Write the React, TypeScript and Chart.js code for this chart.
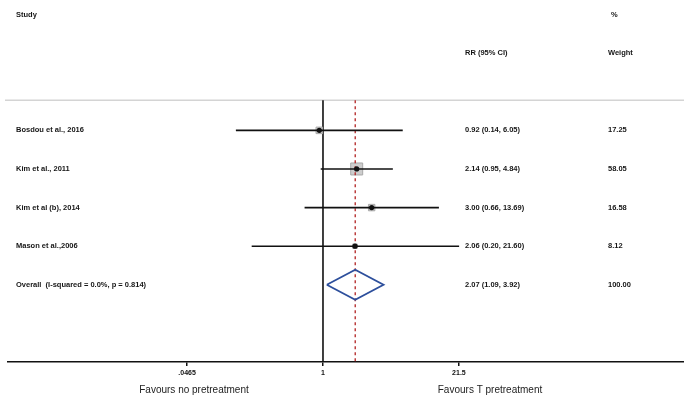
import React, { useEffect, useRef } from "react";
import { Chart, registerables } from "chart.js";

Chart.register(...registerables);

// ---------- data ----------
const studies = ["Bosdou et al., 2016", "Kim et al., 2011", "Kim et al (b), 2014", "Mason et al.,2006"];
const rr = [0.92, 2.14, 3.0, 2.06];
const lower = [0.14, 0.95, 0.66, 0.2];
const upper = [6.05, 4.84, 13.69, 21.6];
const weights = [17.25, 58.05, 16.58, 8.12];

const overallLabel = "Overall  (I-squared = 0.0%, p = 0.814)";
const overallRR = 2.07;
const overallLower = 1.09;
const overallUpper = 3.92;
const overallWeight = 100.0;

const tickValues = [0.0465, 1, 21.5];
const tickLabels = [".0465", "1", "21.5"];

const headerStudy = "Study";
const headerPct = "%";
const headerRR = "RR (95% CI)";
const headerWeight = "Weight";
const favoursLeft = "Favours no pretreatment";
const favoursRight = "Favours T pretreatment";

// ---------- layout / style constants ----------
const W = 684;
const H = 405;
const X_MIN = 0.000817;
const X_MAX = 3459;
const Y_MIN = -3.377;
const Y_MAX = 6.0;
const SEP_Y = -0.78;
const HEAD1_Y = -3;
const HEAD2_Y = -2;
const DIAMOND_HALF = 0.39;
const COL_STUDY = 16;
const COL_RR = 465;
const COL_W = 608;
const COL_PCT = 611;
const FAV_LEFT_X = 194;
const FAV_RIGHT_X = 490;
const FAV_Y = 390;
const TEXT_FONT = "bold 7.5px 'Liberation Sans', Arial, sans-serif";
const TEXT_COLOR = "#151515";

const fmt = (v: number) => v.toFixed(2);

export default function App() {
  const ref = useRef<HTMLCanvasElement | null>(null);

  useEffect(() => {
    document.body.style.margin = "0";
    document.body.style.overflow = "hidden";
    const canvas = ref.current;
    if (!canvas) return;

    const rowY = (i: number) => i;
    const overallRow = studies.length;

    const textPlugin = {
      id: "forestText",
      beforeDatasetsDraw(chart: any) {
        const ctx = chart.ctx;
        const ys = chart.scales.y;
        ctx.save();
        ctx.strokeStyle = "#d4d4d4";
        ctx.lineWidth = 1.5;
        ctx.beginPath();
        const sy = ys.getPixelForValue(SEP_Y);
        ctx.moveTo(chart.chartArea.left - 3, sy);
        ctx.lineTo(chart.chartArea.right, sy);
        ctx.stroke();
        ctx.restore();
      },
      afterDraw(chart: any) {
        const ctx = chart.ctx;
        const ys = chart.scales.y;
        ctx.save();
        ctx.fillStyle = TEXT_COLOR;
        ctx.font = TEXT_FONT;
        ctx.textBaseline = "middle";
        ctx.textAlign = "left";
        const h1 = ys.getPixelForValue(HEAD1_Y);
        const h2 = ys.getPixelForValue(HEAD2_Y);
        ctx.fillText(headerStudy, COL_STUDY, h1);
        ctx.fillText(headerPct, COL_PCT, h1);
        ctx.fillText(headerRR, COL_RR, h2);
        ctx.fillText(headerWeight, COL_W, h2);
        studies.forEach((s, i) => {
          const y = ys.getPixelForValue(rowY(i));
          ctx.fillText(s, COL_STUDY, y);
          ctx.fillText(`${fmt(rr[i])} (${fmt(lower[i])}, ${fmt(upper[i])})`, COL_RR, y);
          ctx.fillText(fmt(weights[i]), COL_W, y);
        });
        const oy = ys.getPixelForValue(rowY(overallRow));
        ctx.fillText(overallLabel, COL_STUDY, oy);
        ctx.fillText(`${fmt(overallRR)} (${fmt(overallLower)}, ${fmt(overallUpper)})`, COL_RR, oy);
        ctx.fillText(fmt(overallWeight), COL_W, oy);

        ctx.font = "10px 'Liberation Sans', Arial, sans-serif";
        ctx.textAlign = "center";
        ctx.fillStyle = "#222";
        ctx.fillText(favoursLeft, FAV_LEFT_X, FAV_Y);
        ctx.fillText(favoursRight, FAV_RIGHT_X, FAV_Y);
        ctx.restore();
      },
    };

    const datasets: any[] = [];
    // dots (on top)
    datasets.push({
      data: rr.map((v, i) => ({ x: v, y: rowY(i) })),
      showLine: false,
      pointRadius: 2.6,
      pointBackgroundColor: "#111",
      pointBorderColor: "#111",
      pointBorderWidth: 0,
      order: 0,
    });
    // diamond
    datasets.push({
      data: [
        { x: overallLower, y: overallRow },
        { x: overallRR, y: overallRow - DIAMOND_HALF },
        { x: overallUpper, y: overallRow },
        { x: overallRR, y: overallRow + DIAMOND_HALF },
        { x: overallLower, y: overallRow },
      ],
      showLine: true,
      borderColor: "#2d4f9c",
      borderWidth: 1.8,
      pointRadius: 0,
      fill: false,
      order: 1,
    });
    // CI lines
    studies.forEach((_, i) => {
      datasets.push({
        data: [
          { x: lower[i], y: rowY(i) },
          { x: upper[i], y: rowY(i) },
        ],
        showLine: true,
        borderColor: "#111",
        borderWidth: 1.6,
        pointRadius: 0,
        order: 2,
      });
    });
    // red dashed overall line
    datasets.push({
      data: [
        { x: overallRR, y: SEP_Y },
        { x: overallRR, y: Y_MAX },
      ],
      showLine: true,
      borderColor: "#b22222",
      borderWidth: 1.3,
      borderDash: [3, 3],
      pointRadius: 0,
      order: 3,
    });
    // weight boxes
    datasets.push({
      data: rr.map((v, i) => ({ x: v, y: rowY(i) })),
      showLine: false,
      pointStyle: "rect",
      pointRadius: weights.map((w) => (12 * Math.sqrt(w / 58.05)) / Math.SQRT2),
      pointBackgroundColor: "#cdcdcd",
      pointBorderColor: "#a8a8a8",
      pointBorderWidth: 1,
      order: 4,
    });
    // null line
    datasets.push({
      data: [
        { x: 1, y: SEP_Y },
        { x: 1, y: Y_MAX },
      ],
      showLine: true,
      borderColor: "#111",
      borderWidth: 1.6,
      pointRadius: 0,
      order: 5,
    });

    const chart = new Chart(canvas, {
      type: "scatter",
      data: { datasets },
      options: {
        animation: false,
        responsive: false,
        maintainAspectRatio: false,
        layout: { autoPadding: false, padding: { left: 8, right: 0, top: 0, bottom: 24.6 } },
        plugins: { legend: { display: false }, tooltip: { enabled: false } },
        scales: {
          x: {
            type: "logarithmic",
            min: X_MIN,
            max: X_MAX,
            afterBuildTicks: (scale: any) => {
              scale.ticks = tickValues.map((v) => ({ value: v }));
            },
            ticks: {
              autoSkip: false,
              maxRotation: 0,
              padding: 3,
              color: "#111",
              font: { size: 7, weight: "bold", family: "'Liberation Sans', Arial, sans-serif" },
              callback: (_v: any, i: number) => tickLabels[i],
            },
            grid: { drawOnChartArea: false, drawTicks: true, tickLength: 4, color: "#111", lineWidth: 1.5 },
            border: { display: true, color: "#111", width: 1.6 },
          },
          y: {
            type: "linear",
            reverse: true,
            min: Y_MIN,
            max: Y_MAX,
            display: false,
          },
        },
      },
      plugins: [textPlugin],
    });

    return () => chart.destroy();
  }, []);

  return <canvas ref={ref} width={W} height={H} style={{ display: "block" }} />;
}
